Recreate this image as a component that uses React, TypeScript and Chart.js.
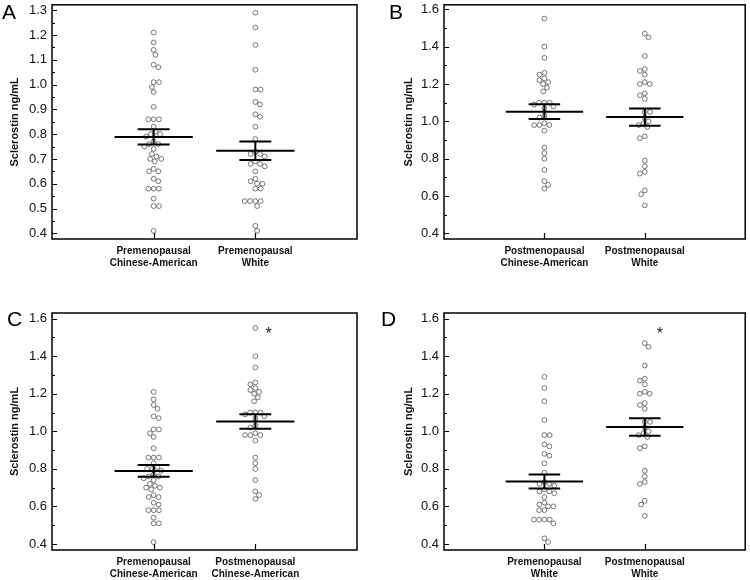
import React, { useEffect, useRef } from 'react';
import { Chart, registerables } from 'chart.js';

Chart.register(...registerables);

const FONT = "'Liberation Sans', Arial, Helvetica, sans-serif";

// ---- data (sclerostin, ng/mL) ----
const preChinese = [1.21, 1.17, 1.14, 1.12, 1.08, 1.07, 1.01, 1.01, 0.99, 0.97, 0.91, 0.86, 0.86, 0.86, 0.83, 0.81, 0.80, 0.80, 0.79, 0.77, 0.76, 0.76, 0.75, 0.74, 0.72, 0.71, 0.70, 0.70, 0.69, 0.66, 0.65, 0.65, 0.62, 0.61, 0.58, 0.58, 0.58, 0.54, 0.51, 0.51, 0.41];
const preWhite = [1.29, 1.23, 1.16, 1.06, 0.98, 0.98, 0.93, 0.92, 0.88, 0.87, 0.83, 0.78, 0.72, 0.72, 0.73, 0.71, 0.68, 0.68, 0.69, 0.67, 0.65, 0.61, 0.62, 0.60, 0.60, 0.58, 0.58, 0.53, 0.53, 0.53, 0.53, 0.51, 0.43, 0.41];
const postChinese = [1.55, 1.40, 1.34, 1.26, 1.25, 1.23, 1.22, 1.21, 1.20, 1.18, 1.16, 1.10, 1.10, 1.10, 1.09, 1.08, 1.07, 1.03, 1.02, 0.99, 0.98, 0.98, 0.98, 0.95, 0.86, 0.83, 0.80, 0.74, 0.68, 0.66, 0.64];
const postWhite = [1.47, 1.45, 1.35, 1.28, 1.27, 1.25, 1.21, 1.20, 1.20, 1.15, 1.14, 1.12, 1.05, 1.05, 1.02, 1.00, 0.99, 0.98, 0.97, 0.92, 0.91, 0.79, 0.76, 0.73, 0.72, 0.63, 0.61, 0.55];

const groupValues = [preChinese, preWhite, postChinese, postWhite];
const groupMeans = [0.789, 0.733, 1.052, 1.023];
const groupSems = [0.031, 0.037, 0.039, 0.046];
const groupLabels = [
  ['Premenopausal', 'Chinese-American'],
  ['Premenopausal', 'White'],
  ['Postmenopausal', 'Chinese-American'],
  ['Postmenopausal', 'White'],
];

const yTicksA = [0.4, 0.5, 0.6, 0.7, 0.8, 0.9, 1.0, 1.1, 1.2, 1.3];
const yTicksBCD = [0.4, 0.6, 0.8, 1.0, 1.2, 1.4, 1.6];
const yTitle = 'Sclerostin ng/mL';

const panelLetters = ['A', 'B', 'C', 'D'];
const panelGroups = [[0, 1], [2, 3], [0, 2], [1, 3]];
const panelAsterisk = [null, null, { x: 2.13, y: 1.53 }, { x: 2.15, y: 1.53 }];

// ---- layout ----
const W = 375;
const H = 290;
const panels = [
  { left: 0, top: 0, plotL: 52, plotR: 357, plotT: 3, plotB: 239, yMin: 0.377, yMax: 1.322, ticks: yTicksA, minor: 0.05, padL: 6, letterX: 2, letterY: 1 },
  { left: 375, top: 0, plotL: 69, plotR: 372, plotT: 3, plotB: 239, yMin: 0.37, yMax: 1.624, ticks: yTicksBCD, minor: 0.1, padL: 25, letterX: 389, letterY: 1 },
  { left: 0, top: 290, plotL: 52, plotR: 357, plotT: 23, plotB: 260, yMin: 0.368, yMax: 1.63, ticks: yTicksBCD, minor: 0.1, padL: 6, letterX: 7, letterY: 308 },
  { left: 375, top: 290, plotL: 69, plotR: 372, plotT: 23, plotB: 260, yMin: 0.368, yMax: 1.63, ticks: yTicksBCD, minor: 0.1, padL: 25, letterX: 381, letterY: 308 },
];

function swarmOffsets(values: number[], pxPerY: number, pxPerX: number, diam: number) {
  const idx = values.map((_, i) => i).sort((a, b) => values[b] - values[a]);
  const placed: { x: number; y: number }[] = [];
  const offs = new Array(values.length).fill(0);
  let flip = 1;
  for (const i of idx) {
    const y = values[i] * pxPerY;
    const cands = [0];
    for (const p of placed) {
      const dy = Math.abs(p.y - y);
      if (dy < diam) {
        const dx = Math.sqrt(diam * diam - dy * dy);
        cands.push(p.x + dx, p.x - dx);
      }
    }
    cands.sort((a, b) => Math.abs(a) - Math.abs(b) || (a - b) * flip);
    let best = 0;
    for (const c of cands) {
      if (placed.every((p) => (p.x - c) ** 2 + (p.y - y) ** 2 >= diam * diam - 0.01)) {
        best = c;
        break;
      }
    }
    flip = -flip;
    placed.push({ x: best, y });
    offs[i] = best / pxPerX;
  }
  return offs;
}

function Panel({ index }: { index: number }) {
  const ref = useRef<HTMLCanvasElement>(null);
  const cfg = panels[index];
  useEffect(() => {
    const pxPerY = (cfg.plotB - cfg.plotT) / (cfg.yMax - cfg.yMin);
    const pxPerX = (cfg.plotR - cfg.plotL) / 3;
    const groups = panelGroups[index];
    const datasets: any[] = [];
    groups.forEach((g, k) => {
      const col = k + 1;
      const m = groupMeans[g];
      const s = groupSems[g];
      const line = (data: any[]) => ({
        data,
        showLine: true,
        borderColor: '#000',
        borderWidth: 2,
        pointRadius: 0,
        order: 0,
      });
      datasets.push(line([{ x: col - 0.385, y: m }, { x: col + 0.385, y: m }]));
      datasets.push(line([{ x: col - 0.157, y: m + s }, { x: col + 0.157, y: m + s }]));
      datasets.push(line([{ x: col - 0.157, y: m - s }, { x: col + 0.157, y: m - s }]));
      datasets.push(line([{ x: col, y: m - s }, { x: col, y: m + s }]));
    });
    groups.forEach((g, k) => {
      const col = k + 1;
      const vals = groupValues[g];
      const offs = swarmOffsets(vals, pxPerY, pxPerX, 5.3);
      datasets.push({
        data: vals.map((v, i) => ({ x: col + offs[i], y: v })),
        pointRadius: 2.4,
        pointBorderWidth: 0.8,
        pointBorderColor: '#555',
        pointBackgroundColor: '#fff',
        showLine: false,
        order: 1,
      });
    });

    const framePlugin = {
      id: 'frame' + index,
      afterDatasetsDraw(chart: any) {
        const { ctx, chartArea } = chart;
        const ys = chart.scales.y;
        const xs = chart.scales.x;
        ctx.save();
        ctx.strokeStyle = '#000';
        ctx.lineWidth = 1.5;
        ctx.strokeRect(chartArea.left, chartArea.top, chartArea.right - chartArea.left, chartArea.bottom - chartArea.top);
        ctx.lineWidth = 1.2;
        ctx.beginPath();
        cfg.ticks.forEach((v: number) => {
          const y = Math.round(ys.getPixelForValue(v)) + 0.5;
          ctx.moveTo(chartArea.left, y);
          ctx.lineTo(chartArea.left + 5, y);
        });
        const first = cfg.ticks[0];
        const last = cfg.ticks[cfg.ticks.length - 1];
        const n = Math.round((last - first) / cfg.minor);
        for (let i = 0; i <= n; i++) {
          const v = first + i * cfg.minor;
          if (cfg.ticks.some((t: number) => Math.abs(t - v) < 1e-6)) continue;
          const y = Math.round(ys.getPixelForValue(v)) + 0.5;
          ctx.moveTo(chartArea.left, y);
          ctx.lineTo(chartArea.left + 3, y);
        }
        [1, 2].forEach((v) => {
          const x = Math.round(xs.getPixelForValue(v)) + 0.5;
          ctx.moveTo(x, chartArea.bottom);
          ctx.lineTo(x, chartArea.bottom - 6);
        });
        ctx.stroke();
        const ast = panelAsterisk[index];
        if (ast) {
          ctx.fillStyle = '#222';
          ctx.font = `16px ${FONT}`;
          ctx.textAlign = 'center';
          ctx.textBaseline = 'middle';
          ctx.fillText('*', xs.getPixelForValue(ast.x), ys.getPixelForValue(ast.y) + 3);
        }
        ctx.restore();
      },
    };

    const chart = new Chart(ref.current as HTMLCanvasElement, {
      type: 'scatter',
      data: { datasets },
      plugins: [framePlugin],
      options: {
        animation: false,
        responsive: false,
        devicePixelRatio: 1,
        events: [],
        layout: {
          padding: { left: cfg.padL, right: W - cfg.plotR, top: cfg.plotT, bottom: 0 },
        },
        plugins: { legend: { display: false }, tooltip: { enabled: false } },
        scales: {
          x: {
            type: 'linear',
            min: 0,
            max: 3,
            grid: { display: false, drawTicks: false },
            border: { display: false },
            afterBuildTicks: (scale: any) => {
              scale.ticks = [{ value: 1 }, { value: 2 }];
            },
            afterFit: (scale: any) => {
              scale.height = H - cfg.plotB;
              scale.paddingLeft = 0;
              scale.paddingRight = 0;
            },
            ticks: {
              autoSkip: false,
              maxRotation: 0,
              minRotation: 0,
              padding: 6,
              color: '#111',
              font: { family: FONT, size: 10, weight: 'bold', lineHeight: 1.2 },
              callback: (v: any) => groupLabels[panelGroups[index][Math.round(v) - 1]],
            },
          },
          y: {
            type: 'linear',
            min: cfg.yMin,
            max: cfg.yMax,
            grid: { display: false, drawTicks: false },
            border: { display: false },
            afterBuildTicks: (scale: any) => {
              scale.ticks = cfg.ticks.map((v: number) => ({ value: v }));
            },
            afterFit: (scale: any) => {
              scale.width = cfg.plotL - cfg.padL;
              scale.paddingTop = 0;
              scale.paddingBottom = 0;
            },
            title: {
              display: true,
              text: yTitle,
              color: '#111',
              padding: { top: 2, bottom: 0 },
              font: { family: FONT, size: 11, weight: 'bold', lineHeight: 1.2 },
            },
            ticks: {
              padding: 5,
              color: '#111',
              font: { family: FONT, size: 13 },
              callback: (v: any) => Number(v).toFixed(1),
            },
          },
        },
      } as any,
    });
    return () => chart.destroy();
  }, [index]);
  return (
    <canvas
      ref={ref}
      width={W}
      height={H}
      style={{ position: 'absolute', left: cfg.left, top: cfg.top, width: W, height: H }}
    />
  );
}

export default function App() {
  return (
    <div style={{ position: 'absolute', left: 0, top: 0, width: 750, height: 580, background: '#fff', overflow: 'hidden' }}>
      {panels.map((p, i) => (
        <Panel key={i} index={i} />
      ))}
      {panels.map((p, i) => (
        <div
          key={'l' + i}
          style={{ position: 'absolute', left: p.letterX, top: p.letterY, fontFamily: FONT, fontSize: 21, lineHeight: 1, color: '#000' }}
        >
          {panelLetters[i]}
        </div>
      ))}
    </div>
  );
}
